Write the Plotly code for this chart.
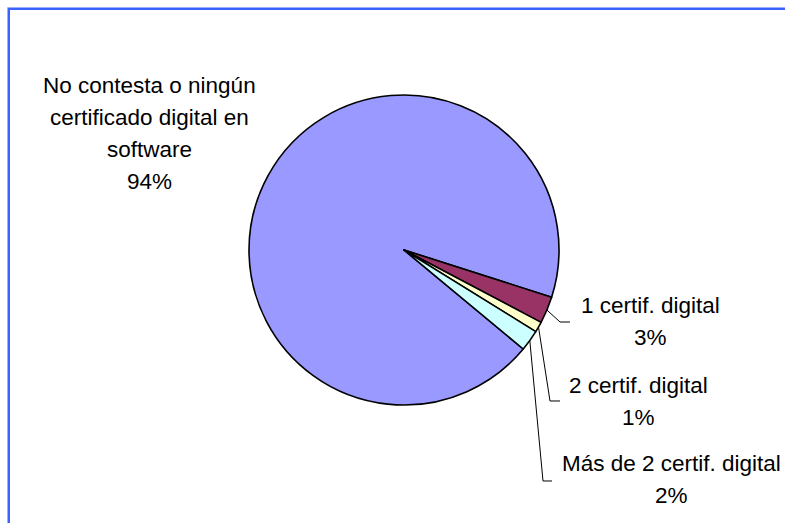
import math
import plotly.graph_objects as go

# ---- data ----
labels = [
    "No contesta o ningún certificado digital en software",
    "1 certif. digital",
    "2 certif. digital",
    "Más de 2 certif. digital",
]
values = [93.9, 2.8, 1.1, 2.2]
colors = ["#9999FF", "#993366", "#FFFFCC", "#CCFFFF"]
label_lines = [
    ["No contesta o ningún", "certificado digital en", "software"],
    ["1 certif. digital"],
    ["2 certif. digital"],
    ["Más de 2 certif. digital"],
]

# ---- layout constants (pixels) ----
W, H = 785, 523
cx, cy, R = 404, 250, 155
rotation = 129.7
label_pos = [(149, 85), (650, 305), (638, 385), (671, 463)]
line_gap = 32
leader_pts = [None, [(560, 322), (570, 322)], [(550, 401), (560, 401)], [(543, 481), (552, 481)]]
FONT = "Liberation Sans, Arial, sans-serif"
FSIZE = 22.5

def px(x):
    return x / W

def py(y):
    return 1 - y / H

total = sum(values)
fig = go.Figure(go.Pie(
    labels=labels, values=values, sort=False, direction="clockwise",
    rotation=rotation, textinfo="none", hoverinfo="label+percent",
    marker=dict(colors=colors, line=dict(color="black", width=1.6)),
    domain=dict(x=[px(cx - R), px(cx + R)], y=[py(cy + R), py(cy - R)]),
    showlegend=False,
))

annotations = []
shapes = []
cum = 0
for i, v in enumerate(values):
    pct = round(v / total * 100)
    lines = label_lines[i] + [f"{pct}%"]
    lx, ly = label_pos[i]
    for k, t in enumerate(lines):
        annotations.append(dict(
            text=t, x=px(lx), y=py(ly + k * line_gap), xref="paper", yref="paper",
            showarrow=False, xanchor="center", yanchor="middle",
            font=dict(family=FONT, size=FSIZE, color="black"),
        ))
    theta = math.radians(rotation + 360 * (cum + v / 2) / total)
    ex = cx + R * math.sin(theta)
    ey = cy - R * math.cos(theta)
    if leader_pts[i]:
        pts = [(ex, ey)] + leader_pts[i]
        path = "M " + " L ".join(f"{px(a):.5f},{py(b):.5f}" for a, b in pts)
        shapes.append(dict(type="path", path=path, xref="paper", yref="paper",
                           line=dict(color="black", width=1)))
    cum += v

# frame (double blue line, extends past right/bottom edges)
shapes.append(dict(type="rect", xref="paper", yref="paper", x0=px(7.5), x1=1.2,
                   y0=-0.2, y1=py(7.5), line=dict(color="#9db0ff", width=1)))
shapes.append(dict(type="rect", xref="paper", yref="paper", x0=px(9), x1=1.2,
                   y0=-0.2, y1=py(9), line=dict(color="#3a62ff", width=2)))

fig.update_layout(
    width=W, height=H, margin=dict(l=0, r=0, t=0, b=0),
    paper_bgcolor="white", plot_bgcolor="white",
    annotations=annotations, shapes=shapes,
)
fig.write_html("out.html", config={"displayModeBar": False},
               post_script="document.body.style.margin='0';document.body.style.overflow='hidden';")
